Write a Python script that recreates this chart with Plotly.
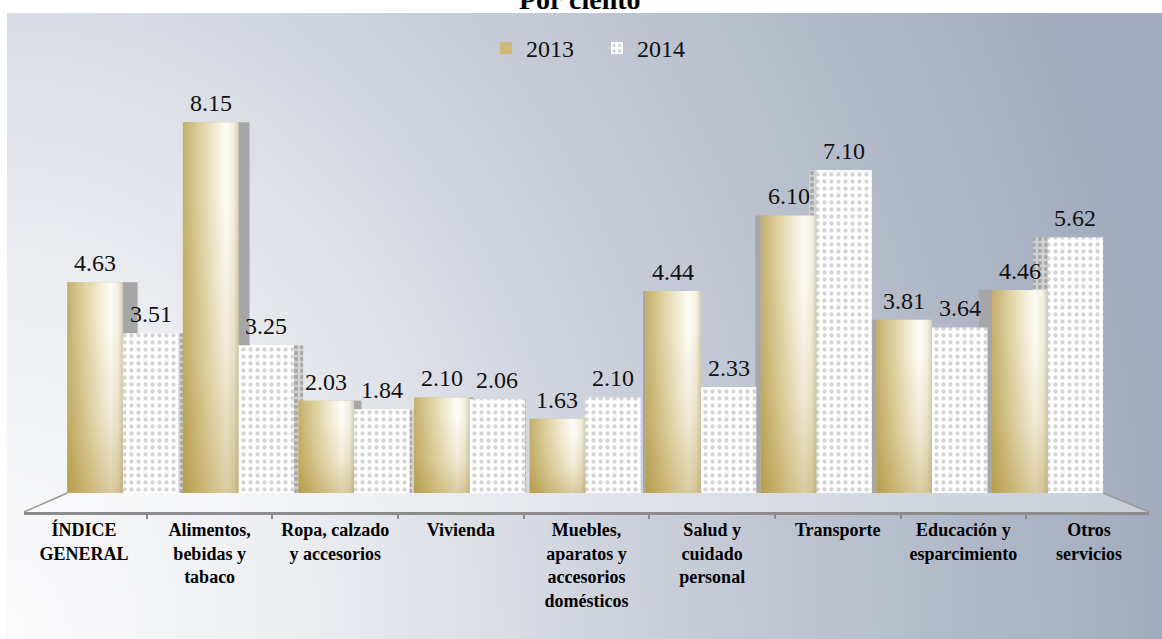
import numpy as np
import plotly.graph_objects as go

# ---- data -------------------------------------------------------------
categories = [
    "ÍNDICE GENERAL",
    "Alimentos, bebidas y tabaco",
    "Ropa, calzado y accesorios",
    "Vivienda",
    "Muebles, aparatos y accesorios domésticos",
    "Salud y cuidado personal",
    "Transporte",
    "Educación y esparcimiento",
    "Otros servicios",
]
tick_labels = [
    "ÍNDICE<br>GENERAL",
    "Alimentos,<br>bebidas y<br>tabaco",
    "Ropa, calzado<br>y accesorios",
    "Vivienda",
    "Muebles,<br>aparatos y<br>accesorios<br>domésticos",
    "Salud y<br>cuidado<br>personal",
    "Transporte",
    "Educación y<br>esparcimiento",
    "Otros<br>servicios",
]
series_names = ["2013", "2014"]
values_2013 = [4.63, 8.15, 2.03, 2.10, 1.63, 4.44, 6.10, 3.81, 4.46]
values_2014 = [3.51, 3.25, 1.84, 2.06, 2.10, 2.33, 7.10, 3.64, 5.62]
title_text = "Por ciento"

# ---- page geometry (pixels) ------------------------------------------
W, H = 1162, 639
PANEL_X0, PANEL_Y0 = 7, 13
CAT_PX = 115.6            # width of one category on the bar plane
BAR_X0 = 65               # left edge of the bar plane
BASE_PX, TOP_PX = 493, 38  # y of value 0 and of the top of the value range
Y_MAX = 10
AXIS_PX = 512             # front edge of the floor / category axis line
FRONT_X0, FRONT_X1 = 24, 1149
VANISH_X = 586            # horizontal centre of the perspective
DEPTH_K = 0.032
SERIF = "Liberation Serif"

idx = np.arange(len(categories))
BAR_W = 0.48
offsets = {"2013": -BAR_W, "2014": 0.0}


def px_of(d):
    return BAR_X0 + (d + 0.5) * CAT_PX


fig = go.Figure()

# ---- background panel (pixel axes, drawn first) -----------------------
nx, ny = 48, 32
xe = np.linspace(PANEL_X0, W, nx + 1)
ye = np.linspace(PANEL_Y0, H, ny + 1)
xc = (xe[:-1] + xe[1:]) / 2
yc = (ye[:-1] + ye[1:]) / 2
XX, YY = np.meshgrid(xc, yc)
shade = np.clip(np.sqrt((XX / W) ** 2 + ((H - YY) / H * 0.45) ** 2), 0, 1)
fig.add_trace(go.Heatmap(
    x=xe, y=ye, z=shade, zmin=0, zmax=1, zsmooth="best",
    colorscale=[[0, "#fcfcfd"], [0.25, "#eceef2"], [0.4, "#dde0e7"],
                [0.55, "#cbd0da"], [0.75, "#b8bfcd"], [1, "#a3acbe"]],
    showscale=False, hoverinfo="skip", xaxis="x", yaxis="y",
))

# floor plate under the bars
back_l, back_r = px_of(-0.5 + 0.02), px_of(len(categories) - 0.5 - 0.02)
fig.add_trace(go.Scatter(
    x=[back_l, back_r, FRONT_X1, FRONT_X0, back_l],
    y=[BASE_PX, BASE_PX, AXIS_PX, AXIS_PX, BASE_PX],
    fill="toself", fillcolor="rgba(255,255,255,0.4)", mode="none",
    hoverinfo="skip", showlegend=False, xaxis="x", yaxis="y",
))
fig.add_trace(go.Scatter(
    x=[back_l, FRONT_X0, None, back_r, FRONT_X1],
    y=[BASE_PX, AXIS_PX, None, BASE_PX, AXIS_PX],
    mode="lines", line=dict(color="#9a9a9a", width=1.5),
    hoverinfo="skip", showlegend=False, xaxis="x", yaxis="y",
))


# ---- side faces of the bars (perspective depth) ----------------------
def side_geometry(off):
    offs, widths = [], []
    for i in idx:
        left, right = i + off, i + off + BAR_W
        lp, rp = px_of(left), px_of(right)
        if (lp + rp) / 2 < VANISH_X:
            w = DEPTH_K * (VANISH_X - rp) / CAT_PX
            offs.append(off + BAR_W)
        else:
            w = DEPTH_K * (lp - VANISH_X) / CAT_PX
            offs.append(off - w)
        widths.append(max(w, 0.01))
    return offs, widths


o13, w13 = side_geometry(offsets["2013"])
o14, w14 = side_geometry(offsets["2014"])
fig.add_trace(go.Bar(
    x=idx, y=values_2014, offset=o14, width=w14,
    marker=dict(color="#cfcfcf", line=dict(width=0),
                pattern=dict(shape=".", fgcolor="#7f7f7f", bgcolor="#d2d2d2",
                             size=6, solidity=0.4)),
    showlegend=False, hoverinfo="skip", xaxis="x2", yaxis="y2",
))
fig.add_trace(go.Bar(
    x=idx, y=values_2013, offset=o13, width=w13,
    marker=dict(color="#a6a6a6", line=dict(width=0)),
    showlegend=False, hoverinfo="skip", xaxis="x2", yaxis="y2",
))

# ---- front faces ------------------------------------------------------
fig.add_trace(go.Bar(
    name=series_names[0], x=idx, y=values_2013,
    offset=offsets["2013"], width=BAR_W,
    marker=dict(color="#cdb978", line=dict(width=0)),
    hoverinfo="skip", xaxis="x2", yaxis="y2",
))
fig.add_trace(go.Bar(
    name=series_names[1], x=idx, y=values_2014,
    offset=offsets["2014"], width=BAR_W,
    marker=dict(color="white", line=dict(width=0),
                pattern=dict(shape=".", fgcolor="#aaaaaa", bgcolor="#ffffff",
                             size=7, solidity=0.3)),
    hoverinfo="skip", xaxis="x2", yaxis="y2",
))

# golden sheen on the 2013 faces
for i, v in zip(idx, values_2013):
    xl, xr = i + offsets["2013"], i + offsets["2013"] + BAR_W
    poly_x = [xl, xr, xr, xl, xl]
    poly_y = [0, 0, v, v, 0]
    fig.add_trace(go.Scatter(
        x=poly_x, y=poly_y, fill="toself", mode="none",
        fillgradient=dict(type="horizontal", colorscale=[
            [0, "#c4b06c"], [0.3, "#ddd09e"], [0.62, "#f5efda"],
            [0.78, "#fdfcf6"], [0.92, "#f3eede"], [1, "#d4cfba"]]),
        hoverinfo="skip", showlegend=False, xaxis="x2", yaxis="y2",
    ))
    fig.add_trace(go.Scatter(
        x=poly_x, y=poly_y, fill="toself", mode="none",
        fillgradient=dict(type="vertical", colorscale=[
            [0, "rgba(160,125,25,0.38)"], [0.35, "rgba(160,125,25,0.14)"],
            [0.8, "rgba(160,125,25,0.0)"], [1, "rgba(160,125,25,0.0)"]]),
        hoverinfo="skip", showlegend=False, xaxis="x2", yaxis="y2",
    ))

# ---- category axis along the front edge of the floor -----------------
fig.add_trace(go.Scatter(
    x=categories, y=[None] * len(categories), mode="markers",
    hoverinfo="skip", showlegend=False, xaxis="x3", yaxis="y3",
))

# ---- value labels -----------------------------------------------------
annotations = []
for name, vals in zip(series_names, [values_2013, values_2014]):
    for i, v in zip(idx, vals):
        annotations.append(dict(
            x=i + offsets[name] + BAR_W / 2, y=v, xref="x2", yref="y2",
            text=f"{v:.2f}", showarrow=False, yanchor="bottom", yshift=4,
            font=dict(family=SERIF, size=24, color="#111111"),
        ))
annotations.append(dict(
    x=580 / W, y=1 - 17 / H, xref="paper", yref="paper",
    text=f"<b>{title_text}</b>", showarrow=False, yanchor="bottom",
    font=dict(family=SERIF, size=28, color="#000000"),
))

fig.update_layout(
    width=W, height=H,
    margin=dict(l=0, r=0, t=0, b=0),
    font=dict(family=SERIF),
    paper_bgcolor="white", plot_bgcolor="rgba(0,0,0,0)",
    barmode="overlay",
    showlegend=True,
    legend=dict(orientation="h", x=597 / W, xanchor="center",
                y=1 - 26 / H, yanchor="top", bgcolor="rgba(0,0,0,0)",
                font=dict(family=SERIF, size=24, color="#111111"),
                itemwidth=30, entrywidth=66, traceorder="normal"),
    xaxis=dict(domain=[0, 1], range=[0, W], visible=False, fixedrange=True),
    yaxis=dict(domain=[0, 1], range=[H, 0], visible=False, fixedrange=True),
    xaxis2=dict(domain=[BAR_X0 / W, (BAR_X0 + CAT_PX * len(categories)) / W],
                range=[-0.5, len(categories) - 0.5], visible=False,
                anchor="y2"),
    yaxis2=dict(domain=[(H - BASE_PX) / H, (H - TOP_PX) / H],
                range=[0, Y_MAX], visible=False, anchor="x2"),
    xaxis3=dict(domain=[FRONT_X0 / W, FRONT_X1 / W], type="category",
                categoryorder="array", categoryarray=categories,
                tickvals=categories, ticktext=tick_labels,
                tickson="boundaries", ticks="outside", ticklen=4,
                tickwidth=2, tickcolor="#8c8c8c",
                showline=True, linecolor="#8c8c8c", linewidth=2.5,
                showgrid=False, zeroline=False, anchor="y3",
                tickfont=dict(family=SERIF, size=18, color="#000000",
                              weight="bold")),
    yaxis3=dict(domain=[(H - AXIS_PX) / H, (H - AXIS_PX) / H + 0.01],
                visible=False, anchor="x3"),
    annotations=annotations,
)

fig.write_html("out.html")
